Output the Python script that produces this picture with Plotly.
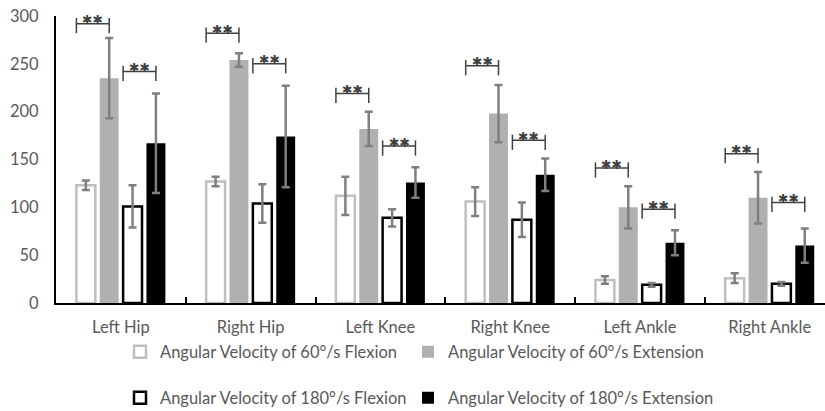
import plotly.graph_objects as go

# ---------------- data ----------------
categories = ["Left Hip", "Right Hip", "Left Knee", "Right Knee", "Left Ankle", "Right Ankle"]

flex60 = [123, 127, 112, 106, 24, 26]
flex60_err = [5, 5, 20, 15, 4, 5]
ext60 = [235, 254, 182, 198, 100, 110]
ext60_err = [42, 7, 18, 30, 22, 27]
flex180 = [101, 104, 89, 87, 19, 20]
flex180_err = [22, 20, 9, 18, 2, 2]
ext180 = [167, 174, 126, 134, 63, 60]
ext180_err = [52, 53, 16, 17, 13, 18]

sig60_level = [292, 282, 219, 248, 141, 156]
sig180_level = [242, 250, 164, 170, 98, 105]
sig_label = "✱✱"

series_names = [
    "Angular Velocity of 60°/s Flexion",
    "Angular Velocity of 60°/s Extension",
    "Angular Velocity of 180°/s Flexion",
    "Angular Velocity of 180°/s Extension",
]
y_ticks = [0, 50, 100, 150, 200, 250, 300]

# ---------------- style ----------------
FONT = "Lato"
FS = 16.5
TXT = "#595959"
ERR = "#7f7f7f"
BARGAP = 0.28
GROUPGAP = 0.19

fig = go.Figure()

styles = [
    dict(color="white", line=dict(color="#bfbfbf", width=2.5)),
    dict(color="#b0b0b0", line=dict(color="#b0b0b0", width=0)),
    dict(color="white", line=dict(color="black", width=2.5)),
    dict(color="black", line=dict(color="black", width=0)),
]
vals = [flex60, ext60, flex180, ext180]
errs = [flex60_err, ext60_err, flex180_err, ext180_err]
legend_ids = ["legend", "legend2", "legend3", "legend4"]

for name, v, e, st, lg in zip(series_names, vals, errs, styles, legend_ids):
    fig.add_trace(go.Bar(
        x=categories, y=v, name=name, marker=st,
        error_y=dict(type="data", array=e, color=ERR, thickness=2.5, width=4),
        legend=lg,
    ))

# significance brackets
slot = (1 - BARGAP) / 4
half_w = slot * (1 - GROUPGAP) / 2
offsets = [(-1.5 + k) * slot for k in range(4)]
for i, cat in enumerate(categories):
    for (a, b, lev) in [(0, 1, sig60_level[i]), (2, 3, sig180_level[i])]:
        x0 = i + offsets[a] - half_w
        x1 = i + offsets[b]
        line = dict(color="#404040", width=1.5)
        fig.add_shape(type="line", x0=x0, x1=x1, y0=lev, y1=lev, xref="x", yref="y", line=line)
        fig.add_shape(type="line", x0=x0, x1=x0, y0=lev - 10, y1=lev + 6, xref="x", yref="y", line=line)
        fig.add_shape(type="line", x0=x1, x1=x1, y0=lev - 10, y1=lev + 6, xref="x", yref="y", line=line)
        fig.add_annotation(x=(x0 + x1) / 2, y=lev, xref="x", yref="y", text=sig_label,
                           showarrow=False, yanchor="middle", yshift=4,
                           font=dict(family="DejaVu Sans", size=12.5, color="#404040"))

W, H = 825, 411
legend_pos = [(120, 352), (408, 352), (120, 398), (408, 398)]
legend_layout = {}
for lg, (px, py) in zip(legend_ids, legend_pos):
    legend_layout[lg] = dict(
        x=px / W, y=1 - py / H, xref="container", yref="container",
        xanchor="left", yanchor="middle", bgcolor="rgba(0,0,0,0)",
        font=dict(family=FONT, size=FS, color=TXT), borderwidth=0,
    )

fig.update_layout(
    width=W, height=H,
    margin=dict(l=56, r=0, t=16, b=108, autoexpand=False),
    plot_bgcolor="white", paper_bgcolor="white",
    barmode="group", bargap=BARGAP, bargroupgap=GROUPGAP,
    font=dict(family=FONT, size=FS, color=TXT),
    showlegend=True,
    **legend_layout,
)
fig.update_xaxes(
    range=[-0.5, 5.426], showline=True, linecolor="black", linewidth=2,
    ticks="inside", tickson="boundaries", ticklen=6, tickcolor="black", tickwidth=1.5,
    showgrid=False, ticklabelstandoff=8,
    tickfont=dict(family=FONT, size=FS, color=TXT),
)
fig.update_yaxes(
    range=[0, 300], tickvals=y_ticks, showline=True, linecolor="black", linewidth=2,
    showgrid=False, zeroline=False, ticks="", ticklabelstandoff=12,
    tickfont=dict(family=FONT, size=FS, color=TXT),
)

fig.write_html(
    "out.html",
    config={"displayModeBar": False},
    post_script="document.body.style.margin='0px';document.body.style.padding='0px';document.body.style.overflow='hidden';",
)
